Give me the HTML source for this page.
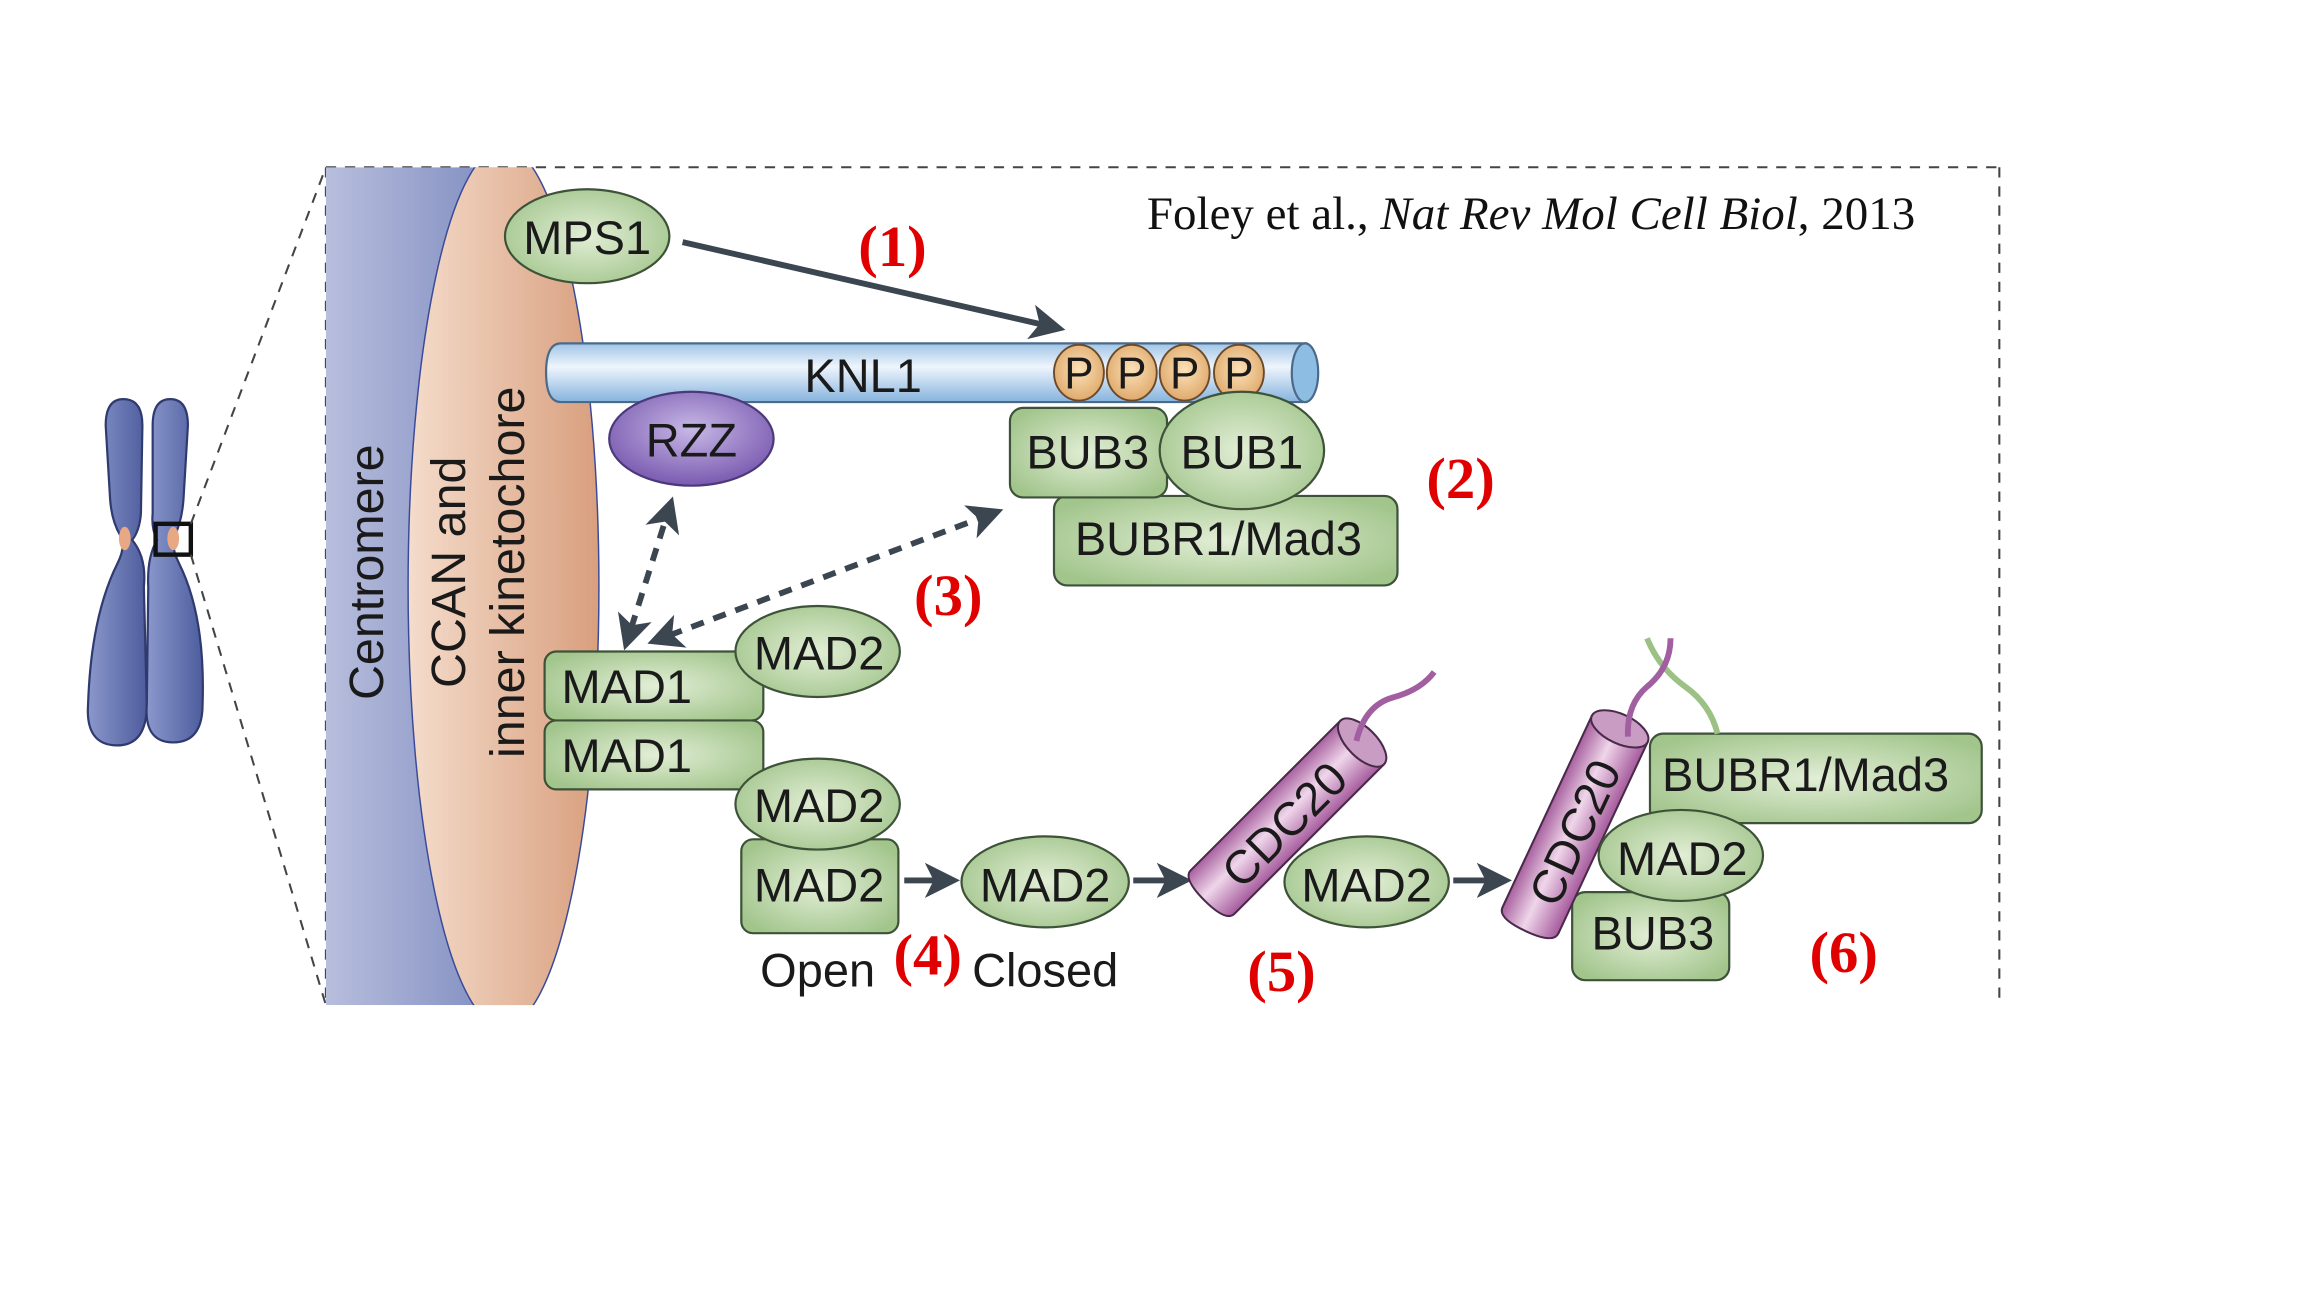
<!DOCTYPE html>
<html><head><meta charset="utf-8"><style>
html,body{margin:0;padding:0;background:#fff;}
svg{display:block;}
.lab{font-family:"Liberation Sans Narrow","Liberation Sans",sans-serif;fill:#1a1a1a;text-anchor:middle;dominant-baseline:central;}
.red{font-family:"Liberation Serif",serif;font-weight:bold;fill:#e00000;text-anchor:middle;dominant-baseline:central;font-size:40px;}
</style></head><body>
<svg width="2304" height="1296" viewBox="0 0 1546 870" preserveAspectRatio="none" xmlns="http://www.w3.org/2000/svg">
<defs>
<radialGradient id="g" cx="50%" cy="50%" r="60%"><stop offset="0" stop-color="#e2eed6"/><stop offset="1" stop-color="#a2c58c"/></radialGradient>
<linearGradient id="bl" x1="0" x2="1"><stop offset="0" stop-color="#b8bedd"/><stop offset="1" stop-color="#8390c2"/></linearGradient>
<linearGradient id="sal" x1="0" x2="1"><stop offset="0" stop-color="#f4dccb"/><stop offset="1" stop-color="#d99f7e"/></linearGradient>
<linearGradient id="knl" x1="0" y1="0" x2="0" y2="1"><stop offset="0" stop-color="#9fc4e6"/><stop offset="0.4" stop-color="#eef5fc"/><stop offset="1" stop-color="#86b3de"/></linearGradient>
<radialGradient id="pp" cx="50%" cy="45%" r="60%"><stop offset="0" stop-color="#fbe1b8"/><stop offset="1" stop-color="#dda566"/></radialGradient>
<radialGradient id="rz" cx="50%" cy="40%" r="60%"><stop offset="0" stop-color="#c7b8e6"/><stop offset="1" stop-color="#7a5ab0"/></radialGradient>
<linearGradient id="cd" x1="0" y1="0" x2="0" y2="1"><stop offset="0" stop-color="#a8609f"/><stop offset="0.45" stop-color="#efd6ea"/><stop offset="1" stop-color="#a55a9c"/></linearGradient>
<linearGradient id="chr" x1="0" x2="1"><stop offset="0" stop-color="#8a98cc"/><stop offset="1" stop-color="#4d5c9d"/></linearGradient>
<clipPath id="box"><rect x="222" y="114" width="1140" height="571"/></clipPath>
<marker id="ah" markerWidth="6" markerHeight="6" refX="4" refY="3" orient="auto" markerUnits="strokeWidth"><path d="M0,0 L6,3 L0,6 L1.5,3 Z" fill="#3b4650"/></marker>
<marker id="ahs" markerWidth="6" markerHeight="6" refX="2" refY="3" orient="auto-start-reverse" markerUnits="strokeWidth"><path d="M0,0 L6,3 L0,6 L1.5,3 Z" fill="#3b4650"/></marker>
</defs>
<g transform="scale(0.985)">
<!-- chromosome -->
<g stroke="#2f3a6e" stroke-width="1.5" fill="url(#chr)">
<path d="M72,290 Q72,272 84,272 Q97,272 97,290 L96,350 Q95,362 90,368 Q100,380 98,400 L100,480 Q100,508 80,508 Q58,508 60,480 Q62,420 80,384 Q86,372 82,365 Q76,355 75,340 Z"/>
<path d="M104,290 Q104,272 116,272 Q128,272 128,290 L125,340 Q124,355 119,365 Q116,372 122,384 Q140,420 138,480 Q138,506 118,506 Q98,506 100,480 L101,400 Q100,380 107,368 Q103,360 104,350 Z"/>
</g>
<ellipse cx="85" cy="367" rx="4" ry="8" fill="#e8a884"/>
<ellipse cx="118" cy="367" rx="4" ry="8" fill="#e8a884"/>
<rect x="106" y="357" width="24" height="21" fill="none" stroke="#111" stroke-width="3"/>
<g stroke="#444" stroke-width="1.4" stroke-dasharray="7,6" fill="none">
<line x1="130" y1="357" x2="222" y2="114"/>
<line x1="130" y1="378" x2="222" y2="685"/>
<line x1="222" y1="114" x2="1362" y2="114"/>
<line x1="1362" y1="114" x2="1362" y2="682"/>
<line x1="222" y1="114" x2="222" y2="685"/>
</g>

<g clip-path="url(#box)">
<rect x="222" y="114" width="110" height="571" fill="url(#bl)"/>
<ellipse cx="343" cy="400" rx="65" ry="300" fill="url(#sal)" stroke="#3a4a9a" stroke-width="1"/>
</g>
<text class="lab" transform="translate(250,390) rotate(-90)" font-size="33" style="font-family:'Liberation Sans',sans-serif">Centromere</text>
<text class="lab" transform="translate(306,390) rotate(-90)" font-size="33" style="font-family:'Liberation Sans',sans-serif">CCAN and</text>
<text class="lab" transform="translate(346,390) rotate(-90)" font-size="33" style="font-family:'Liberation Sans',sans-serif">inner kinetochore</text>

<text x="1043" y="146" font-family="Liberation Serif,serif" font-size="32" fill="#111" text-anchor="middle" dominant-baseline="central">Foley et al., <tspan font-style="italic">Nat Rev Mol Cell Biol</tspan>, 2013</text>

<line x1="465" y1="165" x2="718" y2="223" stroke="#3b4650" stroke-width="4" marker-end="url(#ah)"/>
<text class="red" x="608" y="168">(1)</text>

<path d="M382,234 L890,234 L890,274 L382,274 Q372,274 372,254 Q372,234 382,234 Z" fill="url(#knl)" stroke="#4a6a8a" stroke-width="1.5"/>
<ellipse cx="889" cy="254" rx="9" ry="20" fill="#8ebde4" stroke="#4a6a8a" stroke-width="1.5"/>
<text class="lab" x="588" y="256" font-size="32">KNL1</text>
<g stroke="#6a4a2a" stroke-width="1.3" fill="url(#pp)">
<ellipse cx="735" cy="254" rx="17" ry="19"/><ellipse cx="771" cy="254" rx="17" ry="19"/><ellipse cx="807" cy="254" rx="17" ry="19"/><ellipse cx="844" cy="254" rx="17" ry="19"/>
</g>
<text class="lab" x="735" y="255" font-size="30">P</text><text class="lab" x="771" y="255" font-size="30">P</text><text class="lab" x="807" y="255" font-size="30">P</text><text class="lab" x="844" y="255" font-size="30">P</text>

<g stroke="#3d5238" stroke-width="1.5" fill="url(#g)">
<ellipse cx="400" cy="161" rx="56" ry="32"/>
<rect x="718" y="338" width="234" height="61" rx="9"/>
<rect x="688" y="278" width="107" height="61" rx="9"/>
<ellipse cx="846" cy="307" rx="56" ry="40"/>
<rect x="371" y="491" width="149" height="47" rx="8"/>
<rect x="371" y="444" width="149" height="47" rx="8"/>
<ellipse cx="557" cy="444" rx="56" ry="31"/>
<rect x="505" y="572" width="107" height="64" rx="8"/>
<ellipse cx="557" cy="548" rx="56" ry="31"/>
<ellipse cx="712" cy="601" rx="57" ry="31"/>
<rect x="1124" y="500" width="226" height="61" rx="9"/>
<rect x="1071" y="608" width="107" height="60" rx="9"/>
</g>
<ellipse cx="471" cy="299" rx="56" ry="32" fill="url(#rz)" stroke="#4a3a7a" stroke-width="1.5"/>
<text class="lab" x="471" y="300" font-size="32">RZZ</text>
<text class="lab" x="400" y="162" font-size="32">MPS1</text>
<text class="lab" x="741" y="308" font-size="32">BUB3</text>
<text class="lab" x="846" y="308" font-size="32">BUB1</text>
<text class="lab" x="830" y="367" font-size="32">BUBR1/Mad3</text>
<text class="red" x="995" y="326">(2)</text>

<line x1="430" y1="428" x2="456" y2="346" stroke="#3b4650" stroke-width="4" stroke-dasharray="9,7" marker-end="url(#ah)" marker-start="url(#ahs)"/>
<line x1="456" y1="433" x2="676" y2="350" stroke="#3b4650" stroke-width="4" stroke-dasharray="9,7" marker-end="url(#ah)" marker-start="url(#ahs)"/>
<text class="red" x="646" y="406">(3)</text>

<text class="lab" x="427" y="468" font-size="32">MAD1</text>
<text class="lab" x="427" y="515" font-size="32">MAD1</text>
<text class="lab" x="558" y="445" font-size="32">MAD2</text>
<text class="lab" x="558" y="549" font-size="32">MAD2</text>
<text class="lab" x="558" y="603" font-size="32">MAD2</text>
<text class="lab" x="712" y="603" font-size="32">MAD2</text>
<line x1="616" y1="600" x2="646" y2="600" stroke="#3b4650" stroke-width="4" marker-end="url(#ah)"/>
<line x1="772" y1="600" x2="804" y2="600" stroke="#3b4650" stroke-width="4" marker-end="url(#ah)"/>
<line x1="990" y1="600" x2="1022" y2="600" stroke="#3b4650" stroke-width="4" marker-end="url(#ah)"/>
<text class="lab" x="557" y="661" font-size="32" style="font-family:'Liberation Sans',sans-serif">Open</text>
<text class="red" x="632" y="651">(4)</text>
<text class="lab" x="712" y="661" font-size="32" style="font-family:'Liberation Sans',sans-serif">Closed</text>

<g transform="translate(877,557) rotate(-45)">
<path d="M-72,-21 L72,-21 L72,21 L-72,21 Q-80,21 -80,0 Q-80,-21 -72,-21 Z" fill="url(#cd)" stroke="#4a2a4a" stroke-width="1.4"/>
<ellipse cx="72" cy="0" rx="10" ry="21" fill="#c99cc3" stroke="#4a2a4a" stroke-width="1.4"/>
<text class="lab" x="-5" y="2" font-size="32" style="font-family:'Liberation Sans',sans-serif">CDC20</text>
</g>
<path d="M924,505 Q930,480 950,475 Q968,470 977,458" fill="none" stroke="#a15ea0" stroke-width="4"/>
<ellipse cx="931" cy="601" rx="56" ry="31" fill="url(#g)" stroke="#3d5238" stroke-width="1.5"/>
<text class="lab" x="931" y="603" font-size="32">MAD2</text>
<text class="red" x="873" y="662">(5)</text>

<path d="M1170,500 Q1165,480 1148,468 Q1130,455 1122,435" fill="none" stroke="#9cc184" stroke-width="4"/>
<g transform="translate(1073,562) rotate(-65)">
<path d="M-72,-21 L72,-21 L72,21 L-72,21 Q-80,21 -80,0 Q-80,-21 -72,-21 Z" fill="url(#cd)" stroke="#4a2a4a" stroke-width="1.4"/>
<ellipse cx="72" cy="0" rx="10" ry="21" fill="#c99cc3" stroke="#4a2a4a" stroke-width="1.4"/>
<text class="lab" x="-5" y="2" font-size="32" style="font-family:'Liberation Sans',sans-serif">CDC20</text>
</g>
<path d="M1109,502 Q1108,480 1122,468 Q1138,455 1138,435" fill="none" stroke="#a15ea0" stroke-width="4"/>
<ellipse cx="1145" cy="583" rx="56" ry="31" fill="url(#g)" stroke="#3d5238" stroke-width="1.5"/>
<text class="lab" x="1230" y="528" font-size="32">BUBR1/Mad3</text>
<text class="lab" x="1146" y="585" font-size="32">MAD2</text>
<text class="lab" x="1126" y="636" font-size="32">BUB3</text>
<text class="red" x="1256" y="649">(6)</text>
</g>
</svg>
</body></html>
